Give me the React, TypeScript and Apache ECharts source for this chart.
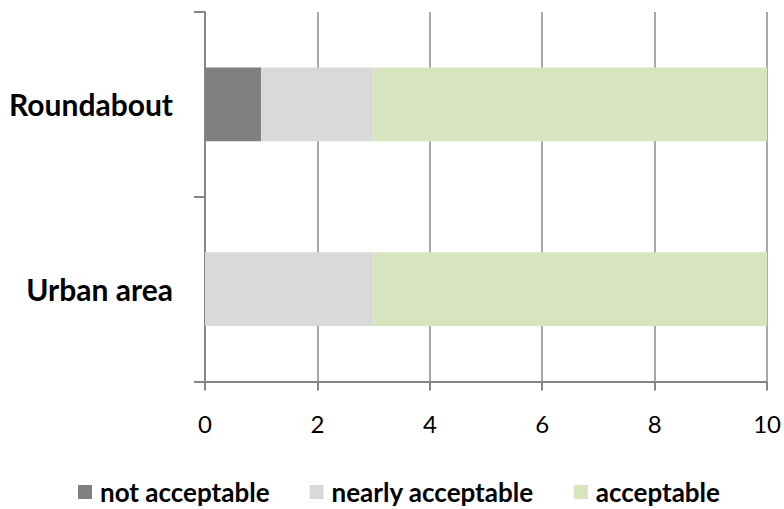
import React, { useEffect, useRef } from "react";
import * as echarts from "echarts";

const categories = ["Urban area", "Roundabout"];
const notAcceptable = [0, 1];
const nearlyAcceptable = [3, 2];
const acceptable = [7, 7];
const seriesNames = ["not acceptable", "nearly acceptable", "acceptable"];
const colors = ["#808080", "#d9d9d9", "#d7e4bd"];

export default function App() {
  const ref = useRef<HTMLDivElement>(null);
  useEffect(() => {
    if (!ref.current) return;
    const chart = echarts.init(ref.current, undefined, { renderer: "svg" });
    const font = "Lato, 'Open Sans', sans-serif";
    const values = [notAcceptable, nearlyAcceptable, acceptable];
    chart.setOption({
      animation: false,
      textStyle: { fontFamily: font },
      grid: { left: 205, right: 16, top: 12, bottom: 127.5, containLabel: false },
      xAxis: {
        type: "value",
        min: 0,
        max: 10,
        interval: 2,
        axisLine: { show: true, lineStyle: { color: "#868686", width: 2 } },
        axisTick: { show: true, length: 9, lineStyle: { color: "#868686", width: 2 } },
        splitLine: { show: true, lineStyle: { color: "#8c8c8c", width: 1.5 } },
        axisLabel: { color: "#000", fontSize: 24, fontFamily: font, margin: 30 },
      },
      yAxis: {
        type: "category",
        data: categories,
        axisLine: { show: true, lineStyle: { color: "#868686", width: 2 } },
        axisTick: { show: true, length: 11, lineStyle: { color: "#868686", width: 2 } },
        axisLabel: { color: "#000", fontSize: 30, fontWeight: "bold", fontFamily: font, margin: 32 },
      },
      legend: {
        left: 78,
        top: 478,
        padding: 0,
        itemWidth: 14,
        itemHeight: 14,
        itemGap: 40,
        icon: "rect",
        textStyle: { fontSize: 26, lineHeight: 28, fontWeight: "bold", color: "#000", fontFamily: font, padding: [0, 0, 0, 3] },
        data: seriesNames,
      },
      series: seriesNames.map((name, i) => ({
        name,
        type: "bar",
        stack: "total",
        barCategoryGap: "60%",
        itemStyle: { color: colors[i] },
        data: values[i],
      })),
    });
    return () => chart.dispose();
  }, []);
  return <div ref={ref} style={{ width: 784, height: 509, position: "absolute", left: 0, top: 0 }} />;
}
